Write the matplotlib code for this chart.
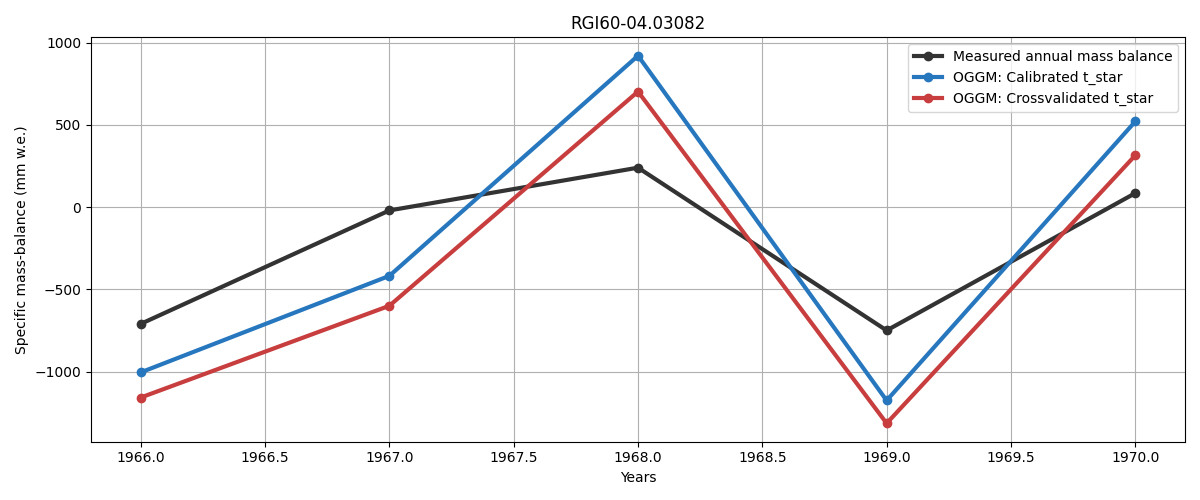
import matplotlib
matplotlib.use('Agg')
import matplotlib.pyplot as plt

years = [1966, 1967, 1968, 1969, 1970]
measured = [-710, -20, 240, -750, 85]
calibrated = [-1005, -418, 921, -1176, 521]
crossval = [-1158, -600, 703, -1315, 315]

fig, ax = plt.subplots(figsize=(12, 5), dpi=100)
ax.plot(years, measured, 'o-', color='#333333', lw=3, label='Measured annual mass balance')
ax.plot(years, calibrated, 'o-', color='#2777bf', lw=3, label='OGGM: Calibrated t_star')
ax.plot(years, crossval, 'o-', color='#c83e3e', lw=3, label='OGGM: Crossvalidated t_star')
ax.set_xlabel('Years')
ax.set_ylabel('Specific mass-balance (mm w.e.)')
ax.set_title('RGI60-04.03082')
ax.grid(True)
ax.legend(loc='upper right')
plt.tight_layout()
plt.savefig('out.png')
